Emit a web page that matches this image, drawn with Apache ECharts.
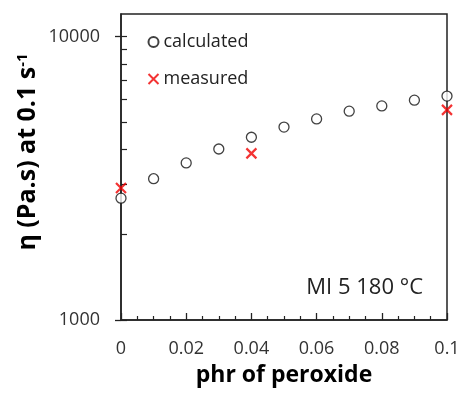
<!DOCTYPE html>
<html>
<head>
<meta charset="utf-8">
<script src="https://cdn.jsdelivr.net/npm/echarts@6/dist/echarts.min.js"></script>
<style>
  html, body { margin: 0; padding: 0; background: #fff; }
  #chart { width: 463px; height: 396px; }
</style>
</head>
<body>
<div id="chart"></div>
<script>
// Peroxide loading (phr) for the model curve
const peroxide = [0, 0.01, 0.02, 0.03, 0.04, 0.05, 0.06, 0.07, 0.08, 0.09, 0.1];
// Calculated viscosity at 0.1 s^-1 (Pa.s)
const calculated = [2690, 3150, 3580, 4010, 4410, 4790, 5120, 5450, 5690, 5960, 6160];
// Measured samples
const measuredPhr = [0, 0.04, 0.1];
const measured = [2920, 3870, 5510];
// Axis ticks
const xTicks = [0, 0.02, 0.04, 0.06, 0.08, 0.1];
const yMajorTicks = [1000, 10000];
const yMinorTicks = [2000, 3000, 4000, 5000, 6000, 7000, 8000, 9000];

const FONT = '"Open Sans", "Noto Sans", sans-serif';
const INK = '#222';
const RED = '#f00000';

const yBase = {
  type: 'log',
  logBase: 10,
  min: 1000,
  max: 12000,
  position: 'left',
  splitLine: { show: false },
  minorSplitLine: { show: false }
};

const chart = echarts.init(document.getElementById('chart'), null, { renderer: 'canvas' });
chart.setOption({
  animation: false,
  backgroundColor: '#fff',
  textStyle: { fontFamily: FONT },
  grid: {
    left: 121, right: 16, top: 14, bottom: 76,
    show: true, borderColor: INK, borderWidth: 1.5,
    containLabel: false, outerBoundsMode: 'none'
  },
  legend: {
    orient: 'vertical',
    left: 146, top: 33,
    padding: 0,
    itemGap: 19,
    itemWidth: 10, itemHeight: 10,
    textStyle: { fontFamily: FONT, fontSize: 18, color: INK },
    data: ['calculated', 'measured']
  },
  xAxis: {
    type: 'value',
    min: 0, max: 0.1, interval: 0.02,
    name: 'phr of peroxide',
    nameLocation: 'middle',
    nameGap: 44,
    nameTextStyle: { fontFamily: FONT, fontSize: 23, fontWeight: 'bold', color: '#000' },
    axisLine: { lineStyle: { color: INK, width: 1.5 } },
    axisTick: { inside: true, length: 7, lineStyle: { color: INK, width: 1.3 } },
    minorTick: { show: true, splitNumber: 4, length: 4, lineStyle: { color: INK, width: 1.2 } },
    axisLabel: {
      margin: 20, fontSize: 18, color: '#333', fontFamily: FONT,
      customValues: xTicks,
      formatter: v => String(+v.toFixed(2))
    },
    splitLine: { show: false }
  },
  yAxis: [
    Object.assign({}, yBase, {
      axisLine: { show: true, lineStyle: { color: INK, width: 1.5 } },
      axisTick: { show: true, inside: false, length: 6, customValues: yMajorTicks, lineStyle: { color: INK, width: 1.3 } },
      axisLabel: {
        show: true, margin: 21, fontSize: 18, color: '#333', fontFamily: FONT,
        customValues: yMajorTicks,
        formatter: v => String(Math.round(v))
      }
    }),
    Object.assign({}, yBase, {
      axisLine: { show: false },
      axisTick: { show: true, inside: true, length: 6, customValues: yMajorTicks.concat(yMinorTicks), lineStyle: { color: INK, width: 1.2 } },
      axisLabel: { show: false }
    })
  ],
  graphic: [
    {
      type: 'text',
      x: 28, y: 152,
      rotation: Math.PI / 2,
      style: {
        text: '{a|η (Pa.s) at 0.1 s}{b|-1}',
        align: 'center',
        verticalAlign: 'middle',
        fill: '#000',
        rich: {
          a: { fontFamily: FONT, fontSize: 25, fontWeight: 'bold', fill: '#000' },
          b: { fontFamily: FONT, fontSize: 15, fontWeight: 'bold', fill: '#000', verticalAlign: 'top' }
        }
      }
    },
    {
      type: 'text',
      right: 40, top: 277,
      style: { text: 'MI 5 180 °C', fontFamily: FONT, fontSize: 22, fill: INK }
    }
  ],
  series: [
    {
      name: 'calculated',
      type: 'scatter',
      symbol: 'circle',
      symbolSize: 10,
      itemStyle: { color: '#fff', borderColor: '#111', borderWidth: 1.3 },
      data: peroxide.map((x, i) => [x, calculated[i]])
    },
    {
      name: 'measured',
      type: 'scatter',
      symbol: 'path://M0,0L10,10M10,0L0,10',
      symbolSize: 10,
      itemStyle: { color: 'none', borderColor: RED, borderWidth: 2.2 },
      data: measuredPhr.map((x, i) => [x, measured[i]])
    }
  ]
});
</script>
</body>
</html>
